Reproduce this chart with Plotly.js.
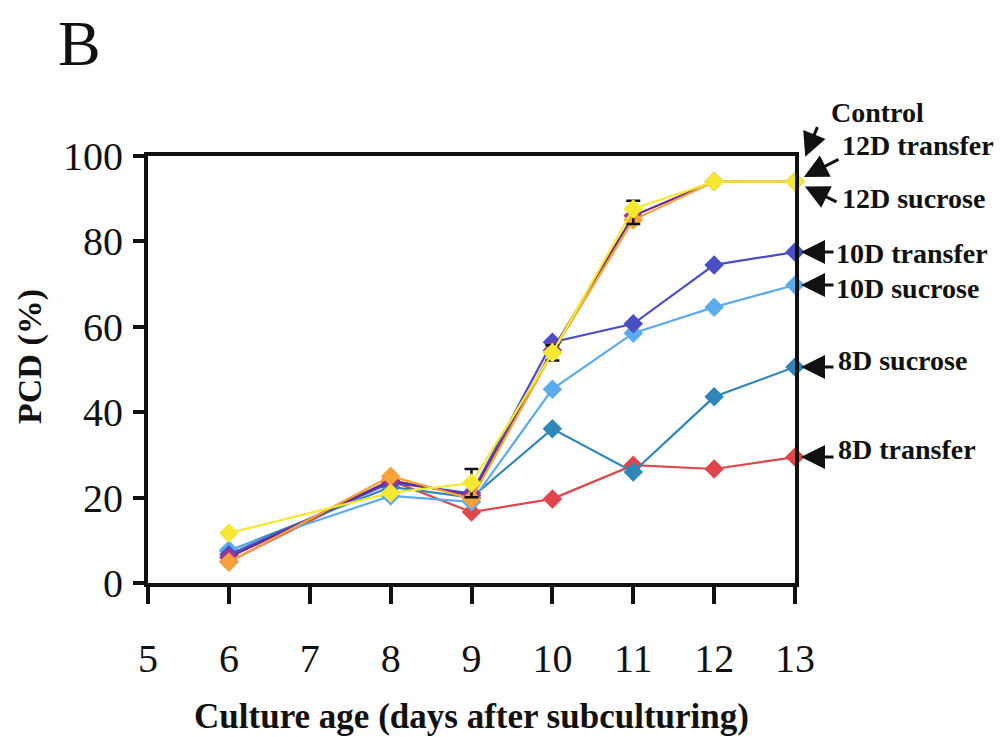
<!DOCTYPE html>
<html>
<head>
<meta charset="utf-8">
<script src="https://cdn.plot.ly/plotly-3.0.1.min.js"></script>
<style>
  html, body { margin: 0; padding: 0; background: #ffffff; }
  #chart { width: 1007px; height: 737px; }
</style>
</head>
<body>
<div id="chart"></div>
<script>
// Culture age (days after subculturing)
const days = [6, 8, 9, 10, 11, 12, 13];

// PCD (%) for each treatment
const control      = [11.7, 21.1, 23.4, 53.9, 87.6, 94.0, 94.0];
const transfer12D  = [4.9, 25.0, 19.7, 54.0, 85.0, 94.0, 94.0];
const sucrose12D   = [6.0, 24.0, 20.5, 54.5, 86.0, 94.0, 94.0];
const transfer10D  = [6.6, 23.5, 21.0, 56.4, 60.7, 74.5, 77.5];
const sucrose10D   = [7.7, 20.4, 19.0, 45.4, 58.5, 64.6, 69.8];
const sucrose8D    = [7.5, 22.5, 20.0, 36.1, 26.0, 43.6, 50.6];
const transfer8D   = [5.0, 24.0, 16.6, 19.7, 27.6, 26.7, 29.5];

// Error (SE) on the control series
const controlErrPlus  = [null, null, 3.3, 1.8, 1.9, null, null];
const controlErrMinus = [null, null, 3.3, 1.8, 3.5, null, null];

// Axis ticks
const xTicks = [5, 6, 7, 8, 9, 10, 11, 12, 13];
const yTicks = [0, 20, 40, 60, 80, 100];

const serif = '"Liberation Serif", "Times New Roman", serif';

function series(name, y, color, lineColor) {
  return {
    type: 'scatter', mode: 'lines+markers', name: name,
    x: days, y: y,
    line: { color: lineColor || color, width: 2.2 },
    marker: { symbol: 'diamond', size: 15, color: color, line: { width: 0 } },
    cliponaxis: false
  };
}

const traces = [
  series('8D transfer', transfer8D, '#e0464b'),
  series('8D sucrose', sucrose8D, '#2f86b8'),
  series('10D sucrose', sucrose10D, '#5cabef'),
  series('10D transfer', transfer10D, '#4a4fc6'),
  series('12D sucrose', sucrose12D, '#a23592', '#6a2a86'),
  series('12D transfer', transfer12D, '#f5a23a'),
  Object.assign(series('Control', control, '#f5e830'), {
    error_y: {
      type: 'data', symmetric: false,
      array: controlErrPlus, arrayminus: controlErrMinus,
      color: '#111111', thickness: 2.5, width: 7
    }
  })
];

// Labels on the right, with arrows to the end of each curve
const labelFont = { family: serif, size: 28, color: '#111111', weight: 'bold' };
const arrowBase = {
  xref: 'x', yref: 'y', text: '', showarrow: true,
  arrowhead: 2, arrowsize: 1.6, arrowwidth: 3, arrowcolor: '#111111'
};
const last = a => a[a.length - 1];

const arrows = [
  Object.assign({}, arrowBase, { x: 13, y: last(control), ax: 23, ay: -56, standoff: 27 }),
  Object.assign({}, arrowBase, { x: 13, y: last(transfer12D), ax: 45, ay: -23, standoff: 10 }),
  Object.assign({}, arrowBase, { x: 13, y: last(sucrose12D), ax: 43, ay: 21, standoff: 11 }),
  Object.assign({}, arrowBase, { x: 13, y: last(transfer10D), ax: 40, ay: 0, standoff: 6 }),
  Object.assign({}, arrowBase, { x: 13, y: last(sucrose10D), ax: 40, ay: 0, standoff: 6 }),
  Object.assign({}, arrowBase, { x: 13, y: last(sucrose8D), ax: 40, ay: 0, standoff: 6 }),
  Object.assign({}, arrowBase, { x: 13, y: last(transfer8D), ax: 40, ay: 0, standoff: 6 })
];

// plot area: 148..795 px across, 156..583 px down
const px = v => (v - 148) / 647;
const py = v => (583 - v) / 427;
function label(text, x, y, anchor) {
  return { xref: 'paper', yref: 'paper', x: px(x), y: py(y), text: text,
           showarrow: false, xanchor: anchor || 'left', yanchor: 'middle', font: labelFont };
}
const labels = [
  label('Control', 877, 112, 'center'),
  label('12D transfer', 840, 145),
  label('12D sucrose', 840, 198),
  label('10D transfer', 834, 253),
  label('10D sucrose', 834, 288),
  label('8D sucrose', 836, 360),
  label('8D transfer', 836, 449),
  { xref: 'paper', yref: 'paper', x: px(56), y: py(44), text: 'B', showarrow: false,
    xanchor: 'left', yanchor: 'middle', font: { family: serif, size: 64, color: '#111111' } },
  { xref: 'paper', yref: 'paper', x: px(30), y: py(357), text: 'PCD (%)', showarrow: false,
    textangle: -90, xanchor: 'center', yanchor: 'middle',
    font: { family: serif, size: 34, color: '#111111', weight: 'bold' } }
];

const layout = {
  width: 1007, height: 737,
  margin: { l: 148, r: 212, t: 156, b: 154 },
  paper_bgcolor: '#ffffff', plot_bgcolor: '#ffffff',
  showlegend: false,
  font: { family: serif, color: '#111111' },
  xaxis: {
    range: [5, 13], tickvals: xTicks, ticktext: xTicks.map(String),
    showgrid: false, zeroline: false,
    showline: true, linecolor: '#111111', linewidth: 4, mirror: true,
    ticks: 'outside', ticklen: 17, tickwidth: 4, tickcolor: '#111111',
    ticklabelstandoff: 20,
    tickfont: { family: serif, size: 40, color: '#111111' },
    title: { text: 'Culture age (days after subculturing)', standoff: 24,
             font: { family: serif, size: 35, color: '#111111', weight: 'bold' } }
  },
  yaxis: {
    range: [0, 100], tickvals: yTicks, ticktext: yTicks.map(String),
    showgrid: false, zeroline: false,
    showline: true, linecolor: '#111111', linewidth: 4, mirror: true,
    ticks: 'outside', ticklen: 11, tickwidth: 4, tickcolor: '#111111',
    ticklabelstandoff: 2,
    tickfont: { family: serif, size: 40, color: '#111111' }
  },
  annotations: arrows.concat(labels)
};

Plotly.newPlot('chart', traces, layout, { staticPlot: true, displayModeBar: false });
</script>
</body>
</html>
